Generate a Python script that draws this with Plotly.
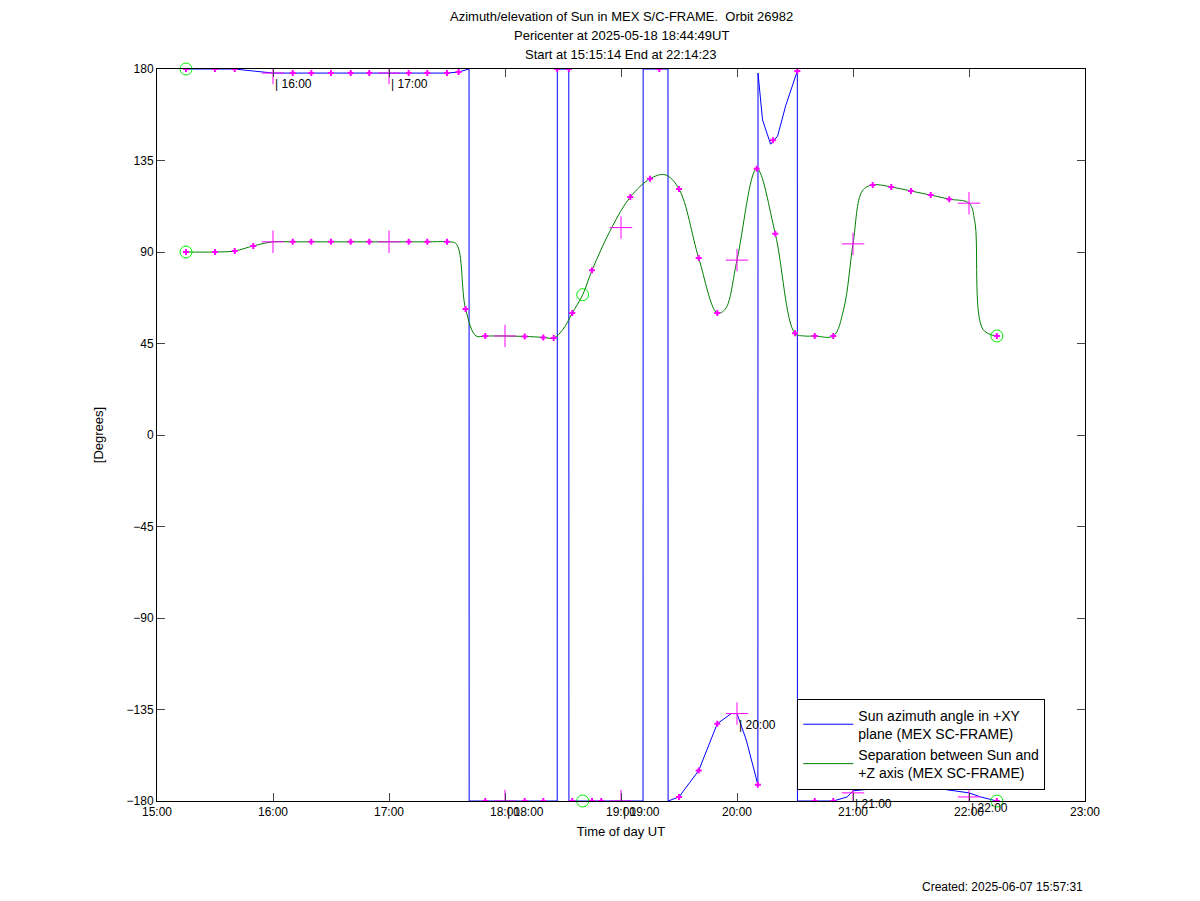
import plotly.graph_objects as go

# times in hours of day (UT)
az_t = [15.25, 15.5, 15.67, 15.83, 16.0, 16.17, 16.33, 16.5, 16.67, 16.83, 17.0, 17.17, 17.33, 17.5, 17.6,
        17.69, 17.691, 17.83, 18.0, 18.17, 18.33, 18.45, 18.451, 18.55, 18.551, 18.67, 18.83, 19.0, 19.19,
        19.191, 19.405, 19.406, 19.5, 19.67, 19.83, 19.95, 20.0, 20.08, 20.18, 20.181, 20.22, 20.29, 20.35,
        20.42, 20.52, 20.521, 20.67, 20.83, 20.95, 21.0, 21.5, 22.0, 22.1, 22.24]
az_v = [180, 180, 180, 179, 178, 178, 178, 178, 178, 178, 178, 178, 178, 178, 178.5,
        180, -180, -180, -180, -180, -180, -180, 180, 180, -180, -180, -180, -180, -180,
        180, 180, -180, -178, -165, -142, -137, -137, -150, -172, 178, 155, 143, 147,
        162, 179, -180, -180, -180, -178, -175, -172, -176, -178, -180]

sep_t = [15.25, 15.5, 15.67, 15.83, 16.0, 16.17, 16.33, 16.5, 16.67, 16.83, 17.0, 17.17, 17.33, 17.5, 17.58,
         17.66, 17.75, 17.83, 18.0, 18.17, 18.33, 18.42, 18.5, 18.58, 18.67, 18.75, 18.92, 19.08, 19.25,
         19.38, 19.5, 19.67, 19.83, 19.9, 20.0, 20.17, 20.33, 20.5, 20.58, 20.67, 20.83, 20.92, 21.0,
         21.08, 21.17, 21.33, 21.5, 21.67, 21.83, 22.0, 22.05, 22.12, 22.24]
sep_v = [90, 90, 90.5, 93, 95, 95, 95, 95, 95, 95, 95, 95, 95, 95, 94,
         62, 48.7, 48.7, 48.7, 48.5, 48, 47.7, 52, 60, 69, 81, 102, 117, 126,
         128, 121, 87, 60, 62, 86, 131, 99, 50, 48.7, 48.7, 48.7, 62, 94,
         120, 123, 122, 120, 118, 116, 114, 105, 52, 48.7]

mark_t = [15.25, 15.5, 15.67, 15.83, 16.17, 16.33, 16.5, 16.67, 16.83, 17.17, 17.33, 17.5, 17.66, 17.83,
          18.17, 18.33, 18.42, 18.58, 18.75, 19.08, 19.25, 19.5, 19.67, 19.83, 20.17, 20.33, 20.5, 20.67,
          20.83, 21.17, 21.33, 21.5, 21.67, 21.83, 22.24]
mark_sep = [90, 90, 90.5, 93, 95, 95, 95, 95, 95, 95, 95, 95, 62, 48.7,
            48.5, 48, 47.7, 60, 81, 117, 126, 121, 87, 60, 131, 99, 50, 48.7,
            48.7, 123, 122, 120, 118, 116, 48.7]
hour_t = [16.0, 17.0, 18.0, 19.0, 20.0, 21.0, 22.0]
hour_sep = [95, 95, 48.7, 102, 86, 94, 114]

bmark_t = [15.25, 15.5, 15.67, 16.17, 16.33, 16.5, 16.67, 16.83, 17.17, 17.33, 17.5, 17.6, 17.83, 18.17, 18.33,
           18.45, 18.55, 18.58, 18.75, 18.83, 19.33, 19.5, 19.67, 19.83, 20.18, 20.31, 20.52, 20.67, 20.83, 22.24]
bmark_v = [180, 180, 180, 178, 178, 178, 178, 178, 178, 178, 178, 178.5, -180, -180, -180,
           180, 180, -180, -180, -180, 180, -178, -165, -142, -172, 145, 179, -180, -180, -180]
bhour_v = [178, 178, -180, -180, -137, -176, -178]

circ_t = [15.25, 18.67, 22.24]
circ_sep = [90, 69, 48.7]
circ_az = [180, -180, -180]

title_lines = ["Azimuth/elevation of Sun in MEX S/C-FRAME.  Orbit 26982",
               "Pericenter at 2025-05-18 18:44:49UT",
               "Start at 15:15:14 End at 22:14:23"]

fig = go.Figure()
fig.add_trace(go.Scatter(x=az_t, y=az_v, mode="lines", line=dict(color="#0000ff", width=1),
                         name="Sun azimuth angle in +XY<br>plane (MEX SC-FRAME)"))
fig.add_trace(go.Scatter(x=sep_t, y=sep_v, mode="lines", line=dict(color="#008000", width=1, shape="spline"),
                         name="Separation between Sun and<br>+Z axis (MEX SC-FRAME)"))
fig.add_trace(go.Scatter(x=mark_t, y=mark_sep, mode="markers",
                         marker=dict(color="#ff00ff", size=5, symbol="cross"), showlegend=False))
fig.add_trace(go.Scatter(x=bmark_t, y=bmark_v, mode="markers",
                         marker=dict(color="#ff00ff", size=5, symbol="cross"), showlegend=False))
for yv in [hour_sep, bhour_v]:
    fig.add_trace(go.Scatter(x=hour_t, y=yv, mode="markers",
                             marker=dict(symbol="cross-thin", size=16, color="#ff00ff",
                                         line=dict(color="#ff00ff", width=1)),
                             showlegend=False))
for yv in [circ_sep, circ_az]:
    fig.add_trace(go.Scatter(x=circ_t, y=yv, mode="markers", cliponaxis=False,
                             marker=dict(symbol="circle-open", size=12, color="#00ee00",
                                         line=dict(color="#00ee00", width=1)),
                             showlegend=False))

for h, yv in zip(hour_t, bhour_v):
    fig.add_annotation(x=h, y=yv, text="| " + f"{int(h)}:00", showarrow=False, xanchor="left",
                       yanchor="top", yshift=-2, font=dict(size=12, color="black"))

for i, line in enumerate(title_lines):
    fig.add_annotation(xref="paper", yref="paper", x=0.5, y=1.072 - i * 0.026, text=line,
                       showarrow=False, xanchor="center", yanchor="middle", font=dict(size=13))

fig.update_xaxes(range=[15, 23], tickvals=list(range(15, 24)),
                 ticktext=[f"{h}:00" for h in range(15, 24)], ticks="inside", ticklen=8,
                 showline=True, linecolor="black", mirror="ticks", showgrid=False, zeroline=False,
                 tickfont=dict(size=12), title=dict(text="Time of day UT", standoff=8, font=dict(size=13)))
fig.update_yaxes(range=[-180, 180], tickvals=list(range(-180, 181, 45)), ticks="inside", ticklen=8,
                 showline=True, linecolor="black", mirror="ticks", showgrid=False, zeroline=False,
                 tickfont=dict(size=12), title=dict(text="[Degrees]", standoff=20, font=dict(size=13)))

fig.add_annotation(xref="paper", yref="paper", x=1, y=-0.13, text="Created: 2025-06-07 15:57:31",
                   showarrow=False, xanchor="right", font=dict(size=12))

fig.update_layout(
    width=1200, height=901, plot_bgcolor="white", paper_bgcolor="white",
    margin=dict(l=149, r=123, t=61, b=108),
    font=dict(family="Liberation Sans, Arial", size=13, color="black"),
    legend=dict(x=0.69, y=0.14, xanchor="left", yanchor="top", bordercolor="black", borderwidth=1,
                bgcolor="white", font=dict(size=14), itemwidth=50),
)

fig.write_html("out.html")
